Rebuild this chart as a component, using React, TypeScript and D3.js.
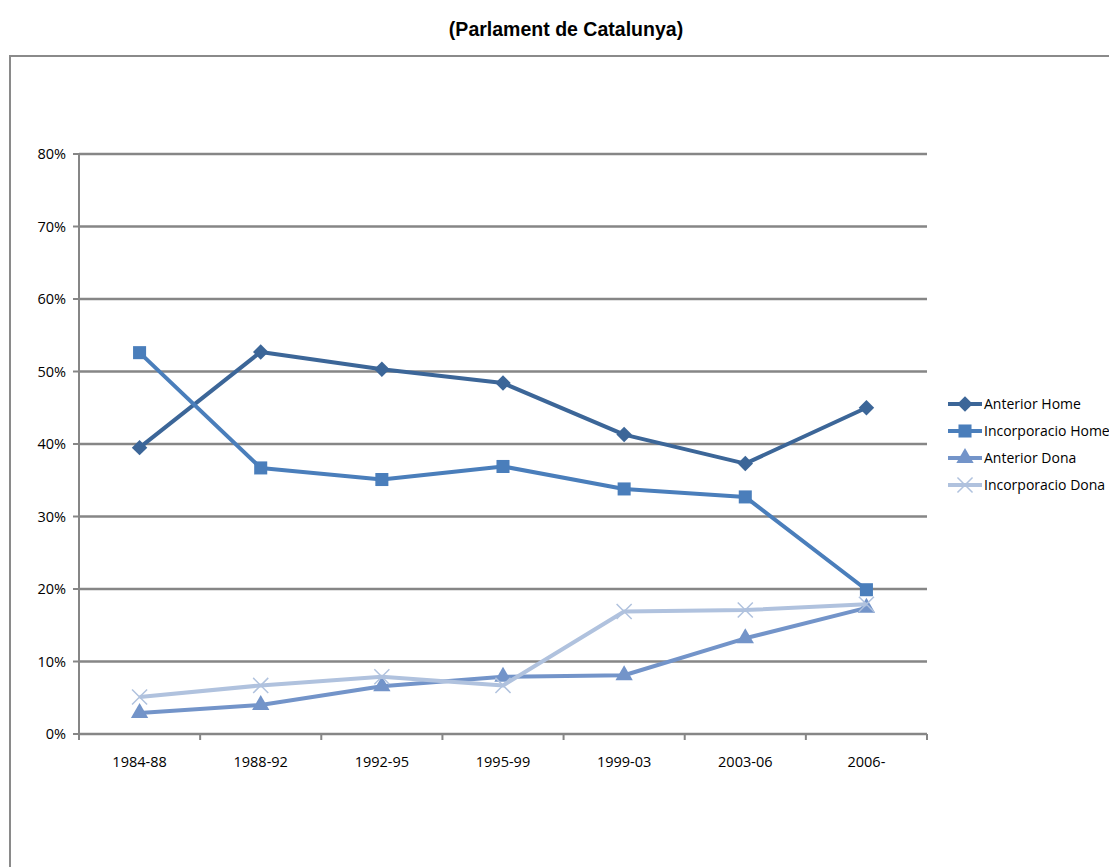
import React from "react";
import * as d3 from "d3";

const categories = ["1984-88", "1988-92", "1992-95", "1995-99", "1999-03", "2003-06", "2006-"];
const anteriorHome = [39.5, 52.7, 50.3, 48.4, 41.3, 37.3, 45.0];
const incorporacioHome = [52.6, 36.7, 35.1, 36.9, 33.8, 32.7, 19.9];
const anteriorDona = [2.9, 4.0, 6.6, 7.9, 8.1, 13.2, 17.4];
const incorporacioDona = [5.1, 6.7, 7.9, 6.7, 16.9, 17.1, 17.9];
const yTicks = [0, 10, 20, 30, 40, 50, 60, 70, 80];

const series = [
  { name: "Anterior Home", values: anteriorHome, color: "#3c6698", symbol: d3.symbolSquare, size: 120, rotate: 45 },
  { name: "Incorporacio Home", values: incorporacioHome, color: "#4a7ebb", symbol: d3.symbolSquare, size: 170, rotate: 0 },
  { name: "Anterior Dona", values: anteriorDona, color: "#7394c9", symbol: d3.symbolTriangle, size: 130, rotate: 0 },
  { name: "Incorporacio Dona", values: incorporacioDona, color: "#b0c2de", symbol: d3.symbolX, size: 150, rotate: 0 },
];

const W = 1109;
const H = 867;
const plot = { left: 79, right: 927, top: 154, bottom: 734 };
const font = "'Open Sans', 'DejaVu Sans', sans-serif";

function Marker({ s, px, py }: { s: (typeof series)[number]; px: number; py: number }) {
  const isX = s.symbol === d3.symbolX;
  return (
    <path
      transform={`translate(${px},${py}) rotate(${s.rotate})`}
      d={d3.symbol(s.symbol, s.size)() ?? ""}
      fill={isX ? "none" : s.color}
      stroke={s.color}
      strokeWidth={isX ? 1.5 : 0}
    />
  );
}

export default function App() {
  const x = d3.scaleBand<string>().domain(categories).range([plot.left, plot.right]);
  const y = d3.scaleLinear().domain([0, 80]).range([plot.bottom, plot.top]);
  const cx = (c: string) => (x(c) ?? 0) + x.bandwidth() / 2;

  const line = d3
    .line<number>()
    .x((_, i) => cx(categories[i]))
    .y((d) => y(d));

  const bounds = categories.map((c) => x(c) ?? 0).concat([plot.right]);

  return (
    <svg
      width={W}
      height={H}
      style={{ position: "absolute", left: 0, top: 0, background: "#fff" }}
    >
      <text
        transform="translate(566,36) scale(0.93,1)"
        textAnchor="middle"
        fontFamily="'Liberation Sans', Arial, sans-serif"
        fontWeight="bold"
        fontSize={21}
        fill="#000"
      >
        (Parlament de Catalunya)
      </text>

      {/* outer frame */}
      <path d={`M10,${H} L10,56 L${W},56`} fill="none" stroke="#8a8a8a" strokeWidth={2} />

      {/* gridlines */}
      {yTicks.map((t) => (
        <g key={t}>
          {t > 0 && (
            <line x1={plot.left} x2={plot.right} y1={y(t)} y2={y(t)} stroke="#868686" strokeWidth={2.5} />
          )}
          <line x1={plot.left - 6} x2={plot.left} y1={y(t)} y2={y(t)} stroke="#868686" strokeWidth={2} />
          <text
            x={66}
            y={y(t)}
            dy="0.35em"
            textAnchor="end"
            fontFamily={font}
            fontSize={14.5}
            fill="#000"
          >
            {t}%
          </text>
        </g>
      ))}

      {/* axes */}
      <line x1={plot.left} x2={plot.left} y1={plot.top} y2={plot.bottom + 6} stroke="#868686" strokeWidth={2} />
      <line x1={plot.left} x2={plot.right} y1={plot.bottom} y2={plot.bottom} stroke="#868686" strokeWidth={2.5} />
      {bounds.map((b, i) => (
        <line key={i} x1={b} x2={b} y1={plot.bottom} y2={plot.bottom + 6} stroke="#868686" strokeWidth={2} />
      ))}
      {categories.map((c) => (
        <text
          key={c}
          x={cx(c)}
          y={767}
          textAnchor="middle"
          fontFamily={font}
          fontSize={14.5}
          fill="#000"
        >
          {c}
        </text>
      ))}

      {/* series */}
      {series.map((s) => (
        <g key={s.name}>
          <path d={line(s.values) ?? ""} fill="none" stroke={s.color} strokeWidth={4} strokeLinejoin="round" />
          {s.values.map((v, i) => (
            <Marker key={i} s={s} px={cx(categories[i])} py={y(v)} />
          ))}
        </g>
      ))}

      {/* legend */}
      {series.map((s, i) => {
        const ly = 404 + i * 27;
        return (
          <g key={s.name}>
            <line x1={948} x2={982} y1={ly} y2={ly} stroke={s.color} strokeWidth={4} />
            <Marker s={s} px={965} py={ly} />
            <text x={984} y={ly} dy="0.35em" fontFamily={font} fontSize={14} fill="#000">
              {s.name}
            </text>
          </g>
        );
      })}
    </svg>
  );
}
